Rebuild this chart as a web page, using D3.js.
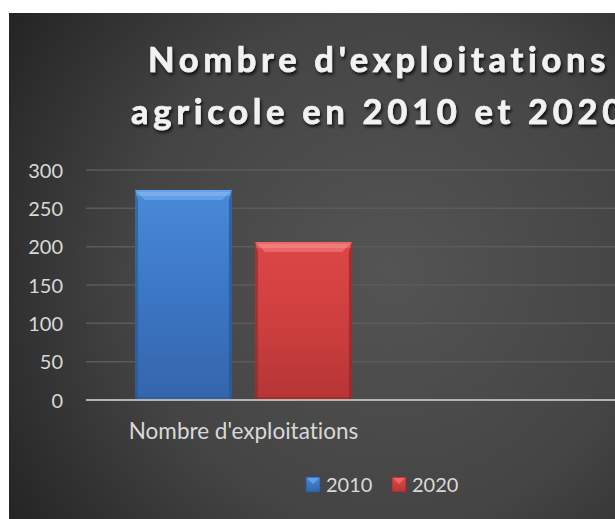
<!DOCTYPE html>
<html>
<head>
<meta charset="utf-8">
<script src="https://cdn.jsdelivr.net/npm/d3@7"></script>
<style>
html,body{margin:0;padding:0;background:#fff;overflow:hidden;}
svg{display:block;}
text{font-variant-ligatures:none;font-feature-settings:"liga" 0, "clig" 0;}
</style>
</head>
<body>
<svg id="chart" width="615" height="519"></svg>
<script>
// ---- data ----
const titleLines = ["Nombre d'exploitations", "agricole en 2010 et 2020"];
const categories = ["Nombre d'exploitations", ""];
const seriesNames = ["2010", "2020"];
const values2010 = [274, null];
const values2020 = [206, null];
const yTicks = [0, 50, 100, 150, 200, 250, 300];

const seriesValues = [values2010, values2020];
const palette = {
  "2010": {top:"#4a8ad6", mid:"#3b76c4", bot:"#3465ab", bevel:"#66a3ea", edge:"#2a5590"},
  "2020": {top:"#dc4646", mid:"#cf3f3f", bot:"#b53535", bevel:"#ee6a6a", edge:"#8e2828"}
};

const svg = d3.select("#chart");
const chartLeft = 9, chartTop = 13, chartWidth = 746, chartHeight = 520;

const defs = svg.append("defs");
const bg = defs.append("radialGradient").attr("id", "bgGrad")
  .attr("gradientUnits", "userSpaceOnUse")
  .attr("cx", 390).attr("cy", 270).attr("r", 470);
bg.append("stop").attr("offset", "0").attr("stop-color", "#545454");
bg.append("stop").attr("offset", "0.55").attr("stop-color", "#444444");
bg.append("stop").attr("offset", "1").attr("stop-color", "#222222");

const shadow = defs.append("filter").attr("id", "tshadow")
  .attr("x", "-10%").attr("y", "-30%").attr("width", "120%").attr("height", "160%");
shadow.append("feDropShadow").attr("dx", 1.5).attr("dy", 2.5).attr("stdDeviation", 1.6)
  .attr("flood-color", "#000").attr("flood-opacity", 0.75);

seriesNames.forEach(s => {
  const p = palette[s];
  const g = defs.append("linearGradient").attr("id", "bar" + s)
    .attr("x1", 0).attr("y1", 0).attr("x2", 0).attr("y2", 1);
  g.append("stop").attr("offset", "0").attr("stop-color", p.top);
  g.append("stop").attr("offset", "0.5").attr("stop-color", p.mid);
  g.append("stop").attr("offset", "1").attr("stop-color", p.bot);
});

// background
svg.append("rect").attr("x", chartLeft).attr("y", chartTop)
  .attr("width", chartWidth).attr("height", chartHeight).attr("fill", "url(#bgGrad)");

// title
const title = svg.append("text")
  .attr("font-family", "Lato, 'Open Sans', sans-serif")
  .attr("font-weight", 700).attr("font-size", 34.5)
  .attr("letter-spacing", 4.7)
  .attr("fill", "#f2f2f2")
  .attr("stroke", "#f2f2f2").attr("stroke-width", 0.7)
  .attr("text-anchor", "middle")
  .attr("filter", "url(#tshadow)");
titleLines.forEach((t, i) => {
  title.append("tspan").attr("x", 379).attr("y", 72 + i * 52).text(t);
});

// scales
const plotLeft = 86, plotRight = 716, plotTop = 170, plotBottom = 400;
const y = d3.scaleLinear().domain([0, 300]).range([plotBottom, plotTop]);
const x0 = d3.scaleBand().domain(categories).range([plotLeft, plotRight]).padding(0);
const x1 = d3.scaleBand().domain(seriesNames).range([0, x0.bandwidth()])
  .paddingInner(0.192).paddingOuter(0.4085);

// gridlines
svg.append("g").selectAll("line").data(yTicks.filter(d => d > 0)).join("line")
  .attr("x1", plotLeft).attr("x2", plotRight)
  .attr("y1", d => y(d)).attr("y2", d => y(d))
  .attr("stroke", "#5b5b5b").attr("stroke-width", 1.5);

// y axis
const yAxis = svg.append("g").attr("transform", `translate(${plotLeft},0)`)
  .call(d3.axisLeft(y).tickValues(yTicks).tickSize(0).tickPadding(23));
yAxis.select(".domain").remove();
yAxis.selectAll("text")
  .attr("font-family", "Lato, sans-serif").attr("font-size", 20)
  .attr("fill", "#d9d9d9").attr("dy", "0.36em");

// bars
const barData = [];
categories.forEach((c, ci) => {
  seriesNames.forEach((s, si) => {
    const v = seriesValues[si][ci];
    if (v != null) barData.push({c, s, v});
  });
});
const bars = svg.append("g").selectAll("g").data(barData).join("g");
bars.each(function(d) {
  const g = d3.select(this);
  const p = palette[d.s];
  const bx = x0(d.c) + x1(d.s), bw = x1.bandwidth();
  const by = y(d.v), bh = y(0) - y(d.v);
  const bev = 10, side = 3;
  g.append("rect").attr("x", bx).attr("y", by).attr("width", bw).attr("height", bh)
    .attr("fill", `url(#bar${d.s})`);
  g.append("polygon").attr("points",
    [[bx, by], [bx + bw, by], [bx + bw - bev, by + bev], [bx + bev, by + bev]].map(q => q.join(",")).join(" "))
    .attr("fill", p.bevel).attr("opacity", 0.9);
  g.append("rect").attr("x", bx + 1).attr("y", by + 2).attr("width", bw - 2).attr("height", 4)
    .attr("fill", "#ffffff").attr("opacity", 0.15);
  g.append("polygon").attr("points",
    [[bx, by], [bx + side, by + bev], [bx + side, by + bh], [bx, by + bh]].map(q => q.join(",")).join(" "))
    .attr("fill", p.edge).attr("opacity", 0.6);
  g.append("polygon").attr("points",
    [[bx + bw, by], [bx + bw - side, by + bev], [bx + bw - side, by + bh], [bx + bw, by + bh]].map(q => q.join(",")).join(" "))
    .attr("fill", p.edge).attr("opacity", 0.75);
  g.append("rect").attr("x", bx).attr("y", by + bh - 3).attr("width", bw).attr("height", 3)
    .attr("fill", p.edge).attr("opacity", 0.5);
});

// x axis
const xAxis = svg.append("g").attr("transform", `translate(0,${plotBottom})`)
  .call(d3.axisBottom(x0).tickSize(0).tickPadding(0));
xAxis.select(".domain").attr("stroke", "#b4b4b4").attr("stroke-width", 2.2)
  .attr("d", `M${plotLeft},0H${plotRight}`);
xAxis.selectAll("text")
  .attr("font-family", "Lato, sans-serif").attr("font-size", 22.5)
  .attr("fill", "#d9d9d9").attr("y", 39).attr("dy", 0);

// legend
const legend = svg.append("g").attr("transform", "translate(306,477)");
const items = legend.selectAll("g").data(seriesNames).join("g")
  .attr("transform", (d, i) => `translate(${i * 86},0)`);
items.append("rect").attr("width", 14).attr("height", 15)
  .attr("fill", d => `url(#bar${d})`).attr("stroke", d => palette[d].edge).attr("stroke-width", 0.8);
items.append("polygon").attr("points", "1,1 13,1 7,7")
  .attr("fill", d => palette[d].bevel).attr("opacity", 0.9);
items.append("text").attr("x", 20).attr("y", 14.5)
  .attr("font-family", "Lato, sans-serif").attr("font-size", 20)
  .attr("fill", "#d9d9d9").text(d => d);
</script>
</body>
</html>
